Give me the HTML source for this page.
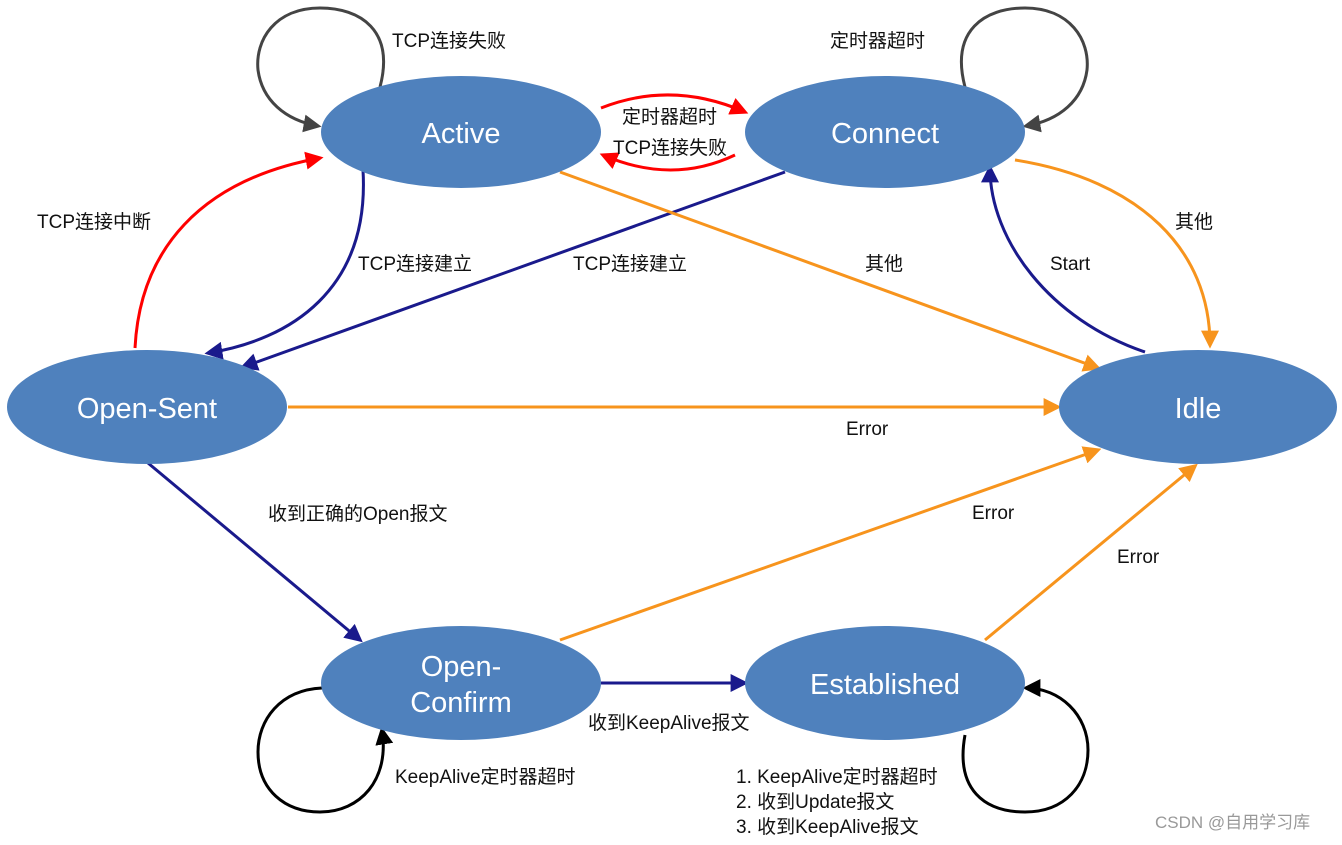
<!DOCTYPE html>
<html><head><meta charset="utf-8"><style>
body{margin:0;background:#fff;}
svg text{font-family:"Liberation Sans","Noto Sans CJK SC",sans-serif;}
.l{font-size:19px;fill:#111;}
.n{font-size:29px;fill:#fff;text-anchor:middle;}
</style></head><body>
<svg width="1342" height="840" viewBox="0 0 1342 840" xmlns="http://www.w3.org/2000/svg">
<defs>
<marker id="mN" viewBox="0 0 10 10" refX="8" refY="5" markerWidth="6" markerHeight="6" orient="auto"><path d="M0,0L10,5L0,10z" fill="#1a1a8c"/></marker>
<marker id="mO" viewBox="0 0 10 10" refX="8" refY="5" markerWidth="6" markerHeight="6" orient="auto"><path d="M0,0L10,5L0,10z" fill="#f7941d"/></marker>
<marker id="mR" viewBox="0 0 10 10" refX="8" refY="5" markerWidth="6" markerHeight="6" orient="auto"><path d="M0,0L10,5L0,10z" fill="#ff0000"/></marker>
<marker id="mG" viewBox="0 0 10 10" refX="8" refY="5" markerWidth="6" markerHeight="6" orient="auto"><path d="M0,0L10,5L0,10z" fill="#444"/></marker>
<marker id="mK" viewBox="0 0 10 10" refX="8" refY="5" markerWidth="6" markerHeight="6" orient="auto"><path d="M0,0L10,5L0,10z" fill="#000"/></marker>
</defs>
<g fill="none" stroke-width="3">
<path d="M380,87 C395,30 360,8 320,8 C275,8 255,40 258,70 C262,100 285,120 318,126" stroke="#444" marker-end="url(#mG)"/>
<path d="M965,87 C950,30 985,8 1025,8 C1070,8 1090,40 1087,70 C1083,100 1060,120 1026,126" stroke="#444" marker-end="url(#mG)"/>
<path d="M601,108 Q672,80 745,112" stroke="#ff0000" marker-end="url(#mR)"/>
<path d="M735,155 Q672,185 603,155" stroke="#ff0000" marker-end="url(#mR)"/>
<path d="M135,348 C140,250 200,180 320,158" stroke="#ff0000" marker-end="url(#mR)"/>
<path d="M363,170 C370,290 290,340 208,353" stroke="#1a1a8c" marker-end="url(#mN)"/>
<path d="M785,172 L243,367" stroke="#1a1a8c" marker-end="url(#mN)"/>
<path d="M560,172 L1098,368" stroke="#f7941d" marker-end="url(#mO)"/>
<path d="M288,407 L1058,407" stroke="#f7941d" marker-end="url(#mO)"/>
<path d="M1145,352 C1050,320 990,240 990,168" stroke="#1a1a8c" marker-end="url(#mN)"/>
<path d="M1015,160 C1140,180 1210,250 1210,345" stroke="#f7941d" marker-end="url(#mO)"/>
<path d="M148,463 L360,640" stroke="#1a1a8c" marker-end="url(#mN)"/>
<path d="M560,640 L1098,450" stroke="#f7941d" marker-end="url(#mO)"/>
<path d="M985,640 L1195,466" stroke="#f7941d" marker-end="url(#mO)"/>
<path d="M601,683 L745,683" stroke="#1a1a8c" marker-end="url(#mN)"/>
<path d="M322,688 C280,690 258,720 258,752 C258,790 285,812 320,812 C360,812 390,780 382,730" stroke="#000" marker-end="url(#mK)"/>
<path d="M965,735 C955,790 985,812 1025,812 C1065,812 1088,785 1088,750 C1088,715 1060,688 1026,688" stroke="#000" marker-end="url(#mK)"/>
</g>
<g fill="#4f81bd">
<ellipse cx="461" cy="132" rx="140" ry="56"/>
<ellipse cx="885" cy="132" rx="140" ry="56"/>
<ellipse cx="147" cy="407" rx="140" ry="57"/>
<ellipse cx="1198" cy="407" rx="139" ry="57"/>
<ellipse cx="461" cy="683" rx="140" ry="57"/>
<ellipse cx="885" cy="683" rx="140" ry="57"/>
</g>
<text class="n" x="461" y="143">Active</text>
<text class="n" x="885" y="143">Connect</text>
<text class="n" x="147" y="418">Open-Sent</text>
<text class="n" x="1198" y="418">Idle</text>
<text class="n" x="461" y="676">Open-</text>
<text class="n" x="461" y="712">Confirm</text>
<text class="n" x="885" y="694">Established</text>
<text class="l" x="392" y="47">TCP连接失败</text>
<text class="l" x="830" y="47">定时器超时</text>
<text class="l" x="622" y="123">定时器超时</text>
<text class="l" x="613" y="154">TCP连接失败</text>
<text class="l" x="37" y="228">TCP连接中断</text>
<text class="l" x="358" y="270">TCP连接建立</text>
<text class="l" x="573" y="270">TCP连接建立</text>
<text class="l" x="865" y="270">其他</text>
<text class="l" x="1050" y="270">Start</text>
<text class="l" x="1175" y="228">其他</text>
<text class="l" x="846" y="435">Error</text>
<text class="l" x="268" y="520">收到正确的Open报文</text>
<text class="l" x="972" y="519">Error</text>
<text class="l" x="1117" y="563">Error</text>
<text class="l" x="588" y="729">收到KeepAlive报文</text>
<text class="l" x="395" y="783">KeepAlive定时器超时</text>
<text class="l" x="736" y="783">1. KeepAlive定时器超时</text>
<text class="l" x="736" y="808">2. 收到Update报文</text>
<text class="l" x="736" y="833">3. 收到KeepAlive报文</text>
<text x="1155" y="828" style="font-size:17px;fill:#999;">CSDN @自用学习库</text>
</svg>
</body></html>
